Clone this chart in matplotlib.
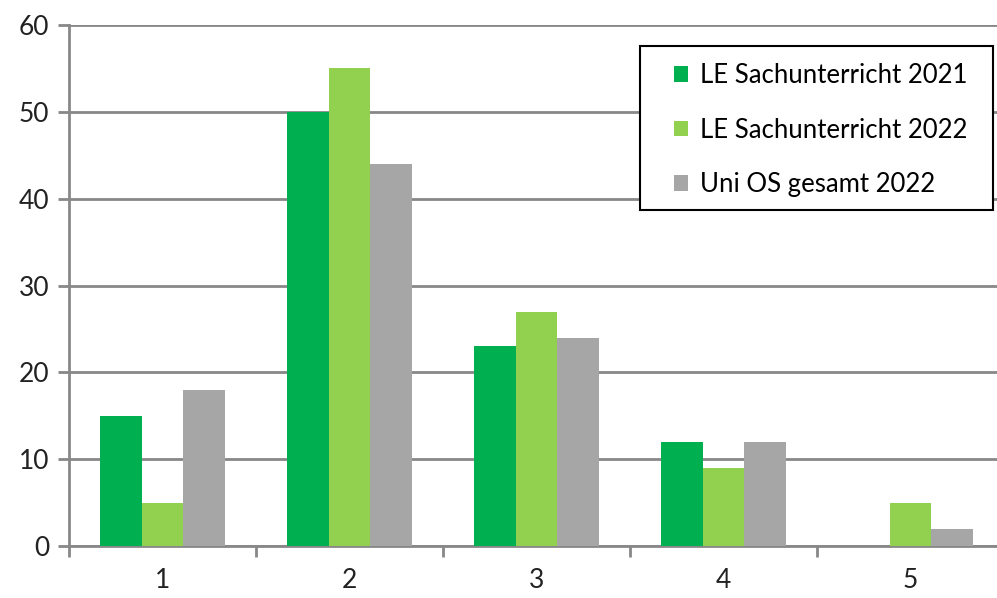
import matplotlib.pyplot as plt
from matplotlib.patches import Rectangle
import numpy as np

categories = ["1", "2", "3", "4", "5"]
le_2021 = [15, 50, 23, 12, 0]
le_2022 = [5, 55, 27, 9, 5]
uni_os_2022 = [18, 44, 24, 12, 2]
series_names = ["LE Sachunterricht 2021", "LE Sachunterricht 2022", "Uni OS gesamt 2022"]
colors = ["#00B050", "#92D050", "#A6A6A6"]

plt.rcParams['font.family'] = ['Lato', 'DejaVu Sans']

W, H = 997, 598
fig = plt.figure(figsize=(W / 100, H / 100), dpi=100)
ax = fig.add_axes([69/W, 1 - 546/H, 935/W, 521/H])

x = np.arange(len(categories))
w = 0.222
for i, (vals, name, c) in enumerate(zip([le_2021, le_2022, uni_os_2022], series_names, colors)):
    ax.bar(x + (i - 1) * w, vals, width=w, color=c, label=name, zorder=3)

ax.set_xlim(-0.5, len(categories) - 0.5)
ax.set_ylim(0, 60)
ax.set_yticks(range(0, 61, 10))
ax.set_xticks(x)
ax.set_xticklabels(categories)
ax.set_xticks(np.arange(-0.5, len(categories), 1), minor=True)
ax.tick_params(axis='x', which='major', length=0, pad=16, labelsize=19, colors='#222222')
ax.tick_params(axis='x', which='minor', length=8, width=2, color='#888888')
ax.tick_params(axis='y', length=8, width=2, color='#888888', labelsize=19, labelcolor='#222222', pad=6)

ax.grid(axis='y', color='#888888', linewidth=2, zorder=0)
for s in ['top', 'right']:
    ax.spines[s].set_visible(False)
for s in ['left', 'bottom']:
    ax.spines[s].set_color('#888888')
    ax.spines[s].set_linewidth(2)

# legend box drawn by hand so the padding can match
box = Rectangle((640/W, 1 - 210/H), 353/W, 164/H, transform=fig.transFigure, clip_on=False,
                facecolor='white', edgecolor='black', linewidth=1.5, zorder=4)
ax.add_patch(box)

leg = ax.legend(loc='upper left', bbox_to_anchor=(674/W, 1 - 63/H), bbox_transform=fig.transFigure,
                fontsize=18.5, frameon=False,
                handlelength=0.55, handleheight=0.55, handletextpad=0.45, labelspacing=1.15,
                borderpad=0, borderaxespad=0)
leg.set_zorder(5)

fig.savefig("out.png", dpi=100)
